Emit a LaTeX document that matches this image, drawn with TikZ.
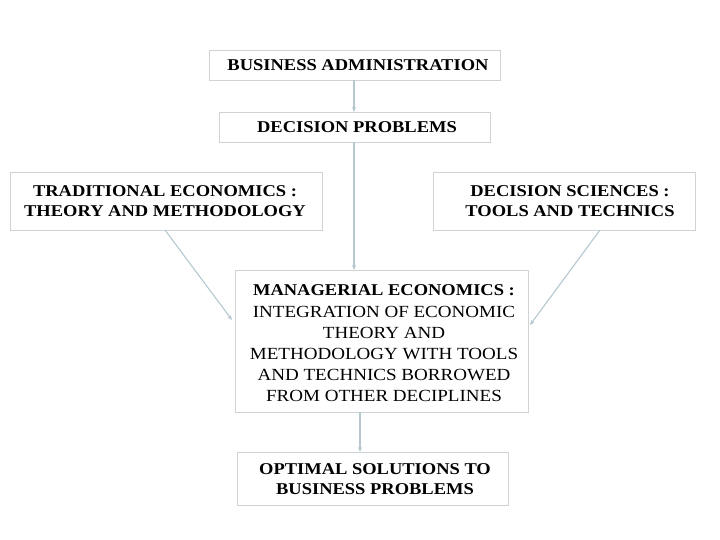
\documentclass[tikz,border=0pt]{standalone}
\usepackage{fontspec}
\usetikzlibrary{arrows.meta}
\setmainfont{Liberation Serif}[FakeStretch=1.12]
\begin{document}
\begin{tikzpicture}[x=1pt,y=-1pt,
  box/.style={draw=black!12!cyan!10!gray!40, line width=0.8pt},
  lbl/.style={font=\bfseries\fontsize{16.5}{19.5}\selectfont, align=center, inner sep=0pt},
  lblr/.style={font=\fontsize{17}{21}\selectfont, align=center, inner sep=0pt},
  arr/.style={draw=cyan!25!gray!55, line width=1.1pt, -{Stealth[length=5pt,width=4pt]}}]
\useasboundingbox (0,0) rectangle (720,540);
\draw[box] (209,50) rectangle (500,80);
\node[lbl] (ba) at (358,65) {BUSINESS ADMINISTRATION};
\draw[box] (219,112) rectangle (490,142);
\node[lbl] (dp) at (357,127) {DECISION PROBLEMS};
\draw[box] (10,172) rectangle (322,230);
\node[lbl] (te) at (165,201) {TRADITIONAL ECONOMICS :\\THEORY AND METHODOLOGY};
\draw[box] (433,172) rectangle (695,230);
\node[lbl] (ds) at (570,201) {DECISION SCIENCES :\\TOOLS AND TECHNICS};
\draw[box] (235,270) rectangle (528,412);
\node[lbl] (me1) at (384,290) {MANAGERIAL ECONOMICS :};
\node[lblr] (me) at (384,354) {INTEGRATION OF ECONOMIC\\THEORY AND\\METHODOLOGY WITH TOOLS\\AND TECHNICS BORROWED\\FROM OTHER DECIPLINES};
\draw[box] (237,452) rectangle (508,505);
\node[lbl] (os) at (375,479) {OPTIMAL SOLUTIONS TO\\BUSINESS PROBLEMS};
\coordinate (a1) at (354,80); \coordinate (a2) at (354,112);
\coordinate (b1) at (354,142); \coordinate (b2) at (354,270);
\coordinate (c1) at (165,230); \coordinate (c2) at (232,320);
\coordinate (d1) at (600,230); \coordinate (d2) at (530,325);
\coordinate (e1) at (360,412); \coordinate (e2) at (360,452);
\draw[arr] (a1) -- (a2);
\draw[arr] (b1) -- (b2);
\draw[arr] (c1) -- (c2);
\draw[arr] (d1) -- (d2);
\draw[arr] (e1) -- (e2);
\end{tikzpicture}
\end{document}
